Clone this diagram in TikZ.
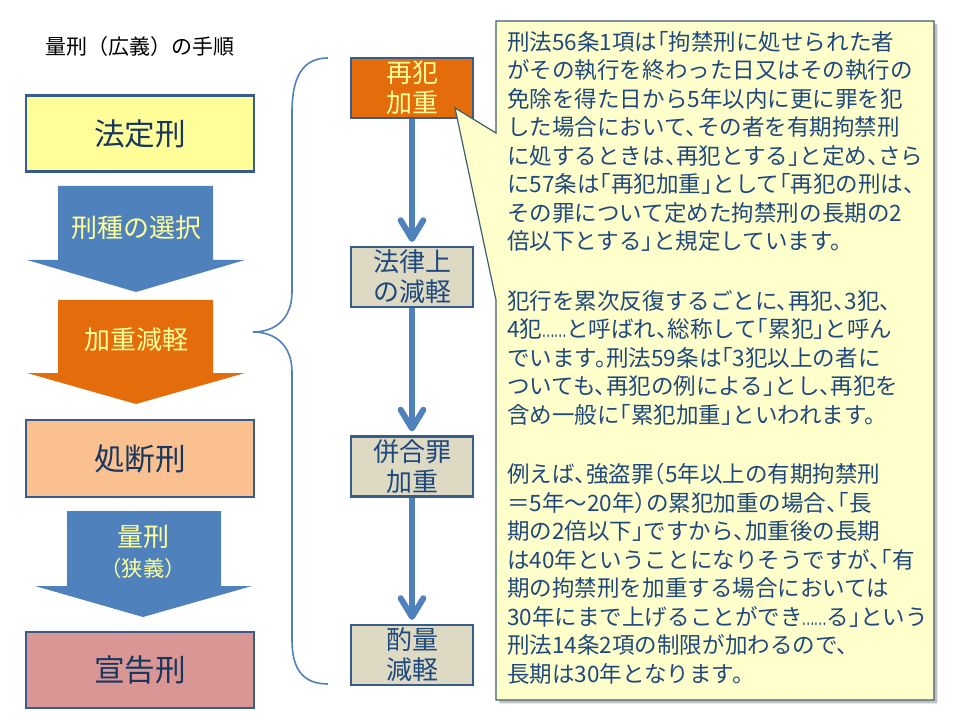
\documentclass[tikz,border=0pt]{standalone}
\usepackage{fontspec}
\usepackage{graphicx}
\setmainfont{Noto Sans CJK JP}
\newfontfamily\jph[RawFeature=+halt]{Noto Sans CJK JP}
\usetikzlibrary{arrows.meta,shadows}
\definecolor{bdr}{HTML}{385D8A}
\definecolor{ablue}{HTML}{4F81BD}
\definecolor{aorange}{HTML}{E46C0A}
\definecolor{pyellow}{HTML}{FFFF99}
\definecolor{peach}{HTML}{FAC090}
\definecolor{rose}{HTML}{D99694}
\definecolor{greige}{HTML}{DDD9C3}
\definecolor{navy}{HTML}{1F497D}
\definecolor{dnavy}{HTML}{17375E}
\definecolor{callfill}{HTML}{FFFFCC}
\definecolor{callbdr}{HTML}{3F5F70}
\newcommand{\myellip}{\scalebox{0.5}[1]{……}}
\begin{document}
\begin{tikzpicture}[x=0.75pt,y=-0.75pt,
  bigbox/.style={draw=bdr, line width=2pt, minimum width=171pt, minimum height=57pt, inner sep=0pt, text=dnavy, font=\fontsize{23}{28}\selectfont},
  midbox/.style={draw=bdr, line width=1.6pt, minimum width=91.5pt, minimum height=45pt, inner sep=0pt, align=center, font=\fontsize{19.5}{22.5}\selectfont},
  arrowtxt/.style={text=pyellow, align=center, inner sep=0pt, font=\jph\fontsize{19.5}{23}\selectfont},
  flowarrow/.style={draw=ablue, line width=4.5pt, shorten >=3pt, -{Straight Barb[length=14pt,width=17pt,round]}},
  bracestyle/.style={draw=ablue, line width=1.2pt}
]
\useasboundingbox (0,0) rectangle (960,720);
\fill[white] (0,0) rectangle (960,720);

% title
\node[anchor=west, inner sep=0pt, font=\fontsize{15.75}{18}\selectfont] (title) at (45,47) {量刑（広義）の手順};

% left boxes
\node[bigbox, fill=pyellow] (hotei) at (140,133.5) {法定刑};
\node[bigbox, fill=peach, minimum height=57.75pt] (shodan) at (140,458.5) {処断刑};
\node[bigbox, fill=rose] (senkoku) at (140,670) {宣告刑};

% block arrows
\fill[ablue] (58,186) -- (213,186) -- (213,260) -- (245,260) -- (136,292) -- (27,260) -- (58,260) -- cycle;
\fill[aorange] (58,300) -- (213,300) -- (213,373) -- (245,373) -- (136,404) -- (27,373) -- (58,373) -- cycle;
\fill[ablue] (67,511) -- (221,511) -- (221,586) -- (252,586) -- (143,617) -- (35,586) -- (67,586) -- cycle;
\node[arrowtxt] (sentaku) at (136,228) {刑種の選択};
\node[arrowtxt] (kagen) at (136,340) {加重減軽};
\node[arrowtxt] (ryokei) at (143,537) {量刑};
\node[arrowtxt, font=\jph\fontsize{16}{19}\selectfont] (kyogi) at (143,568) {（狭義）};

% brace
\coordinate (bt) at (328,58);
\coordinate (bm) at (253,332);
\coordinate (bb) at (328,684);
\path[bracestyle] (bt) .. controls (302,58) and (292,78) .. (292,112) -- (292,292)
  .. controls (292,318) and (276,332) .. (bm)
  .. controls (276,332) and (292,346) .. (292,372) -- (292,640)
  .. controls (292,668) and (302,684) .. (bb);

% middle boxes
\node[midbox, fill=aorange, text=pyellow] (saihan) at (412,88) {再犯\\加重};
\node[midbox, fill=greige, text=navy] (horitsu) at (412,277) {法律上\\の減軽};
\node[midbox, fill=greige, text=navy] (heigo) at (412,466.5) {併合罪\\加重};
\node[midbox, fill=greige, text=navy] (shakuryo) at (412,655) {酌量\\減軽};
\draw[flowarrow] (saihan.south) -- (horitsu.north);
\draw[flowarrow] (horitsu.south) -- (heigo.north);
\draw[flowarrow] (heigo.south) -- (shakuryo.north);

% callout
\coordinate (ptip) at (455,108);
\path[draw=callbdr, line width=0.9pt, fill=callfill,
  drop shadow={shadow xshift=2.5pt, shadow yshift=-2.5pt, opacity=0.35, fill=black!70}]
  (496,21) -- (934,21) -- (934,700) -- (496,700) -- (496,300) -- (ptip) -- (496,133) -- cycle;
\node[anchor=north west, inner sep=0pt, align=left, text=navy, font=\jph\fontsize{16.9}{21.35}\selectfont] (calltext) at (507,31) {%
刑法56条1項は「拘禁刑に処せられた者\\
がその執行を終わった日又はその執行の\\
免除を得た日から5年以内に更に罪を犯\\
した場合において、その者を有期拘禁刑\\
に処するときは、再犯とする」と定め、さら\\
に57条は「再犯加重」として「再犯の刑は、\\
その罪について定めた拘禁刑の長期の2\\
倍以下とする」と規定しています。\\[23.4pt]
犯行を累次反復するごとに、再犯、3犯、\\
4犯\myellip と呼ばれ、総称して「累犯」と呼ん\\
でいます。刑法59条は「3犯以上の者に\\
ついても、再犯の例による」とし、再犯を\\
含め一般に「累犯加重」といわれます。\\[23.4pt]
例えば、強盗罪（5年以上の有期拘禁刑\\
＝5年～20年）の累犯加重の場合、「長\\
期の2倍以下」ですから、加重後の長期\\
は40年ということになりそうですが、「有\\
期の拘禁刑を加重する場合においては\\
30年にまで上げることができ\myellip る」という\\
刑法14条2項の制限が加わるので、\\
長期は30年となります。};
\end{tikzpicture}
\end{document}
